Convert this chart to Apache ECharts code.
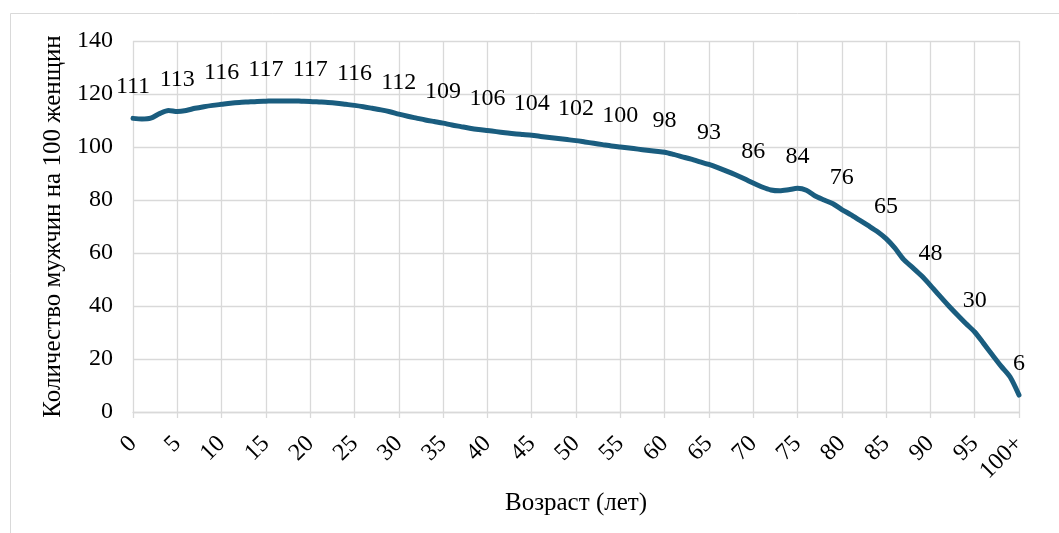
<!DOCTYPE html>
<html>
<head>
<meta charset="utf-8">
<script src="https://cdn.jsdelivr.net/npm/echarts@6/dist/echarts.min.js"></script>
<style>
html,body{margin:0;padding:0;background:#fff;}
#c{width:1059px;height:533px;}
</style>
</head>
<body>
<div id="c"></div>
<script>
const ages = ['0','1','2','3','4','5','6','7','8','9',
  '10','11','12','13','14','15','16','17','18','19',
  '20','21','22','23','24','25','26','27','28','29',
  '30','31','32','33','34','35','36','37','38','39',
  '40','41','42','43','44','45','46','47','48','49',
  '50','51','52','53','54','55','56','57','58','59',
  '60','61','62','63','64','65','66','67','68','69',
  '70','71','72','73','74','75','76','77','78','79',
  '80','81','82','83','84','85','86','87','88','89',
  '90','91','92','93','94','95','96','97','98','99','100+'];
const ratio = [110.8,110.6,110.9,112.6,113.8,113.4,113.8,114.6,115.2,115.7,
  116.1,116.5,116.8,117.0,117.2,117.3,117.4,117.4,117.4,117.3,
  117.2,117.0,116.8,116.5,116.1,115.7,115.2,114.6,114.0,113.3,
  112.4,111.6,110.9,110.2,109.6,109.0,108.3,107.7,107.1,106.6,
  106.2,105.8,105.4,105.0,104.7,104.4,104.0,103.6,103.2,102.8,
  102.4,101.9,101.4,100.9,100.4,100.0,99.6,99.2,98.8,98.4,
  98.0,97.2,96.3,95.4,94.4,93.4,92.2,90.9,89.5,88.0,
  86.4,84.9,83.8,83.5,83.9,84.4,83.7,81.5,80.0,78.6,
  76.4,74.5,72.4,70.3,68.1,65.4,61.8,57.5,54.5,51.4,
  47.8,44.0,40.3,36.8,33.4,30.2,25.9,21.5,17.2,13.2,6.4];
const yTitle = 'Количество мужчин на 100 женщин';
const xTitle = 'Возраст (лет)';

const font = 'Liberation Serif';
const chart = echarts.init(document.getElementById('c'), null, {renderer:'canvas'});
const every5 = (i) => i % 5 === 0;
chart.setOption({
  animation: false,
  backgroundColor: '#fff',
  textStyle: {fontFamily: font, color: '#000'},
  graphic: [{
    type: 'rect', left: 8, top: 11, silent: true,
    shape: {width: 1200, height: 700},
    style: {fill: 'none', stroke: '#d9d9d9', lineWidth: 1}
  }],
  grid: {left: 133, right: 40, top: 41, bottom: 121, containLabel: false},
  xAxis: {
    type: 'category',
    data: ages,
    boundaryGap: false,
    name: xTitle,
    nameLocation: 'middle',
    nameGap: 79,
    nameTextStyle: {fontFamily: font, fontSize: 25, color: '#000'},
    axisLine: {show: true, lineStyle: {color: '#d9d9d9', width: 1.3}},
    axisTick: {show: true, interval: (i) => every5(i), length: 6, lineStyle: {color: '#d9d9d9', width: 1.3}},
    axisLabel: {interval: (i) => every5(i), rotate: 45, margin: 28, fontFamily: font, fontSize: 24, color: '#000'},
    splitLine: {show: true, interval: (i) => every5(i), lineStyle: {color: '#d9d9d9', width: 1.3}}
  },
  yAxis: {
    type: 'value',
    min: 0, max: 140, interval: 20,
    name: yTitle,
    nameLocation: 'middle',
    nameGap: 64,
    nameTextStyle: {fontFamily: font, fontSize: 25, color: '#000'},
    axisLine: {show: false},
    axisTick: {show: false},
    axisLabel: {margin: 20, fontFamily: font, fontSize: 24, color: '#000'},
    splitLine: {show: true, lineStyle: {color: '#d9d9d9', width: 1.3}}
  },
  series: [{
    type: 'line',
    data: ratio.map((v, i) => ({value: v, label: {show: every5(i)}})),
    smooth: 0.25,
    showSymbol: true,
    showAllSymbol: true,
    symbol: 'circle',
    symbolSize: 1,
    lineStyle: {color: '#1a5d7f', width: 5, cap: 'round', join: 'round'},
    itemStyle: {color: 'rgba(0,0,0,0)', borderWidth: 0},
    label: {
      position: 'top', distance: 19,
      fontFamily: font, fontSize: 24, color: '#000',
      formatter: (p) => String(Math.round(p.value))
    },
    labelLayout: {hideOverlap: false}
  }]
});
</script>
</body>
</html>
